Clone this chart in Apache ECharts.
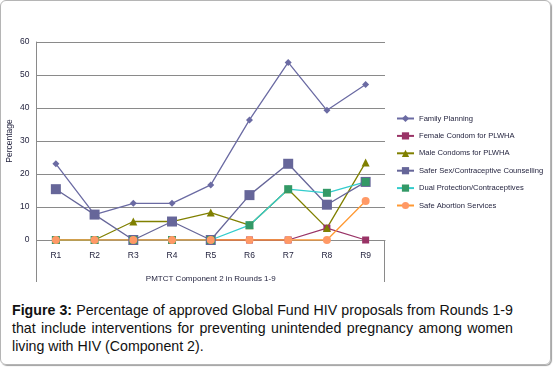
<!DOCTYPE html>
<html>
<head>
    <meta charset="utf-8">
    <script src="https://cdn.jsdelivr.net/npm/echarts@6/dist/echarts.min.js"></script>
    <style type="text/css">
        body { margin: 0; background: #fff; }
        #card {
            position: absolute; left: 0; top: 0;
            width: 549px; height: 363px;
            border: 1px solid #b5b5b5;
            border-radius: 6px;
            box-shadow: 1px 1px 1px #a0a0a0;
        }
        #main {
            position: absolute; left: 0; top: 0;
            width: 553px; height: 295px;
        }
        #caption {
            position: absolute; left: 12px; top: 301px; width: 501px;
            font-family: "Liberation Sans", Arial, sans-serif;
            font-size: 14.2px; line-height: 18px; color: #111;
            text-align: justify;
        }
    </style>
</head>
<body>
    <div id="card"></div>
    <div id="main"></div>
    <div id="caption"><b>Figure 3:</b> Percentage of approved Global Fund HIV proposals from Rounds 1-9 that include interventions for preventing unintended pregnancy among women living with HIV (Component 2).</div>
    <script>
        // 数据
        var categories = ['R1', 'R2', 'R3', 'R4', 'R5', 'R6', 'R7', 'R8', 'R9'];
        var familyPlanning = [23.1, 7.7, 11.1, 11.1, 16.7, 36.4, 53.8, 39.3, 47.1];
        var femaleCondom = [0, 0, 0, 0, 0, 0, 0, 3.6, 0];
        var maleCondoms = [0, 0, 5.6, 5.6, 8.3, 4.5, 15.4, 3.6, 23.5];
        var saferSex = [15.4, 7.7, 0, 5.6, 0, 13.6, 23.1, 10.7, 17.6];
        var dualProtection = [0, 0, 0, 0, 0, 4.5, 15.4, 14.3, 17.6];
        var safeAbortion = [0, 0, 0, 0, 0, 0, 0, 0, 11.8];

        var font = "'Liberation Sans', sans-serif";
        var gridColor = '#8a8a8a';
        var textColor = '#1e1e3a';

        function line(name, data, color, symbol, size, markerColor) {
            return {
                name: name,
                type: 'line',
                data: data,
                symbol: symbol,
                symbolSize: size,
                showAllSymbol: true,
                lineStyle: { color: color, width: 1.3 },
                itemStyle: { color: markerColor || color, borderWidth: 0 },
                emphasis: { disabled: true },
                animation: false
            };
        }

        var myChart = echarts.init(document.getElementById('main'));
        var option = {
            animation: false,
            grid: { left: 36.5, top: 42, right: 168, bottom: 55, outerBoundsMode: 'none', containLabel: false },
            legend: {
                orient: 'vertical',
                left: 396,
                top: 114.5,
                padding: 0,
                itemWidth: 17,
                itemHeight: 9,
                itemGap: 9.4,
                textStyle: { fontFamily: font, fontSize: 7.6, color: textColor },
                data: ['Family Planning', 'Female Condom for PLWHA', 'Male Condoms for PLWHA',
                    'Safer Sex/Contraceptive Counselling', 'Dual Protection/Contraceptives', 'Safe Abortion Services']
            },
            xAxis: {
                type: 'category',
                data: categories,
                boundaryGap: true,
                name: 'PMTCT Component 2 in Rounds 1-9',
                nameLocation: 'middle',
                nameGap: 35,
                nameMoveOverlap: false,
                nameTextStyle: { fontFamily: font, fontSize: 8, color: textColor },
                axisLine: { lineStyle: { color: gridColor } },
                axisTick: { show: false },
                axisLabel: { fontFamily: font, fontSize: 8.5, color: textColor, margin: 11 }
            },
            yAxis: {
                type: 'value',
                min: 0, max: 60, interval: 10,
                name: 'Percentage',
                nameLocation: 'middle',
                nameGap: 22,
                nameMoveOverlap: false,
                nameTextStyle: { fontFamily: font, fontSize: 8.5, color: textColor },
                axisLine: { show: true, lineStyle: { color: gridColor } },
                axisTick: { show: false },
                axisLabel: { fontFamily: font, fontSize: 8.5, color: textColor, margin: 7 },
                splitLine: { lineStyle: { color: gridColor } }
            },
            graphic: [
                { type: 'line', shape: { x1: 36.5, y1: 240, x2: 36.5, y2: 282 }, style: { stroke: gridColor } },
                { type: 'line', shape: { x1: 384.5, y1: 240, x2: 384.5, y2: 282 }, style: { stroke: gridColor } }
            ],
            series: [
                line('Family Planning', familyPlanning, '#6b6ba3', 'diamond', 7),
                line('Female Condom for PLWHA', femaleCondom, '#993366', 'rect', 7),
                line('Male Condoms for PLWHA', maleCondoms, '#808000', 'triangle', 8),
                line('Safer Sex/Contraceptive Counselling', saferSex, '#666699', 'rect', 10),
                line('Dual Protection/Contraceptives', dualProtection, '#33cccc', 'rect', 8, '#339966'),
                {
                    // 星形标记叠加
                    name: 'Dual Protection/Contraceptives',
                    type: 'scatter',
                    data: dualProtection,
                    symbol: 'path://M4.3,0h1.4v10h-1.4z M0,4.3h10v1.4h-10z M1,0L10,9L9,10L0,1z M9,0L10,1L1,10L0,9z',
                    symbolSize: 6,
                    itemStyle: { color: '#66e6e6' },
                    emphasis: { disabled: true },
                    silent: true
                },
                line('Safe Abortion Services', safeAbortion, '#ff9933', 'circle', 8, '#ff9966')
            ]
        };
        myChart.setOption(option);
    </script>
</body>
</html>
